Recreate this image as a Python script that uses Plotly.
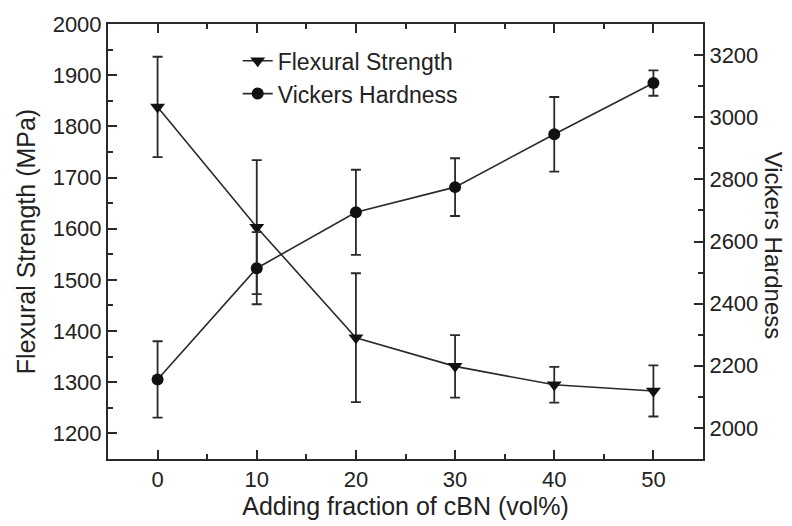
import plotly.graph_objects as go

cbn_fraction = [0, 10, 20, 30, 40, 50]
flexural_strength = [1838, 1603, 1387, 1331, 1295, 1283]
flexural_err = [98, 131, 126, 61, 35, 50]
vickers_hardness = [2156, 2514, 2694, 2775, 2945, 3110]
vickers_err = [123, 116, 137, 93, 120, 41]

x_ticks = [0, 10, 20, 30, 40, 50]
left_ticks = [1200, 1300, 1400, 1500, 1600, 1700, 1800, 1900, 2000]
right_ticks = [2000, 2200, 2400, 2600, 2800, 3000, 3200]

ink = "#2a2a2a"
font_family = "Liberation Sans, Arial, Helvetica, sans-serif"

fig = go.Figure()
fig.add_trace(go.Scatter(
    x=cbn_fraction, y=flexural_strength, name="Flexural Strength",
    mode="lines+markers",
    line=dict(color=ink, width=1.6),
    marker=dict(symbol="triangle-down", size=13, color="#111"),
    error_y=dict(type="data", array=flexural_err, color=ink, thickness=1.8, width=5),
    yaxis="y",
))
fig.add_trace(go.Scatter(
    x=cbn_fraction, y=vickers_hardness, name="Vickers Hardness",
    mode="lines+markers",
    line=dict(color=ink, width=1.6),
    marker=dict(symbol="circle", size=12, color="#111"),
    error_y=dict(type="data", array=vickers_err, color=ink, thickness=1.8, width=5),
    yaxis="y2",
))

axis_common = dict(
    showline=True, linecolor=ink, linewidth=2, ticks="inside", tickcolor=ink,
    tickwidth=1.8, ticklen=9, showgrid=False, zeroline=False,
    tickfont=dict(family=font_family, size=22, color="#222"),
)

fig.update_layout(
    width=792, height=526,
    margin=dict(l=108, r=89, t=23, b=60),
    paper_bgcolor="white", plot_bgcolor="white",
    font=dict(family=font_family, color="#222"),
    xaxis=dict(
        range=[-5, 55], tickvals=x_ticks, mirror="ticks",
        minor=dict(dtick=5, tick0=0, ticks="inside", ticklen=5, tickcolor=ink, tickwidth=1.5),
        title=dict(text="Adding fraction of cBN (vol%)", font=dict(size=25, family=font_family, color="#222"), standoff=4),
        **axis_common,
    ),
    yaxis=dict(
        range=[1150, 2000], tickvals=left_ticks,
        minor=dict(dtick=50, tick0=0, ticks="inside", ticklen=5, tickcolor=ink, tickwidth=1.5),
        title=dict(text="Flexural Strength (MPa)", font=dict(size=25, family=font_family, color="#222"), standoff=10),
        **axis_common,
    ),
    yaxis2=dict(
        range=[1900, 3300], tickvals=right_ticks, overlaying="y", side="right",
        minor=dict(dtick=100, tick0=0, ticks="inside", ticklen=5, tickcolor=ink, tickwidth=1.5),
        **axis_common,
    ),
    legend=dict(
        x=0.218, y=0.965, xanchor="left", yanchor="top",
        bgcolor="rgba(0,0,0,0)", borderwidth=0,
        font=dict(family=font_family, size=23, color="#222"),
        tracegroupgap=0,
    ),
    showlegend=True,
    annotations=[dict(
        text="Vickers Hardness", xref="paper", yref="paper", x=1.118, y=0.49,
        xanchor="center", yanchor="middle", textangle=90, showarrow=False,
        font=dict(family=font_family, size=24, color="#222"),
    )],
)

fig.write_html("out.html")
